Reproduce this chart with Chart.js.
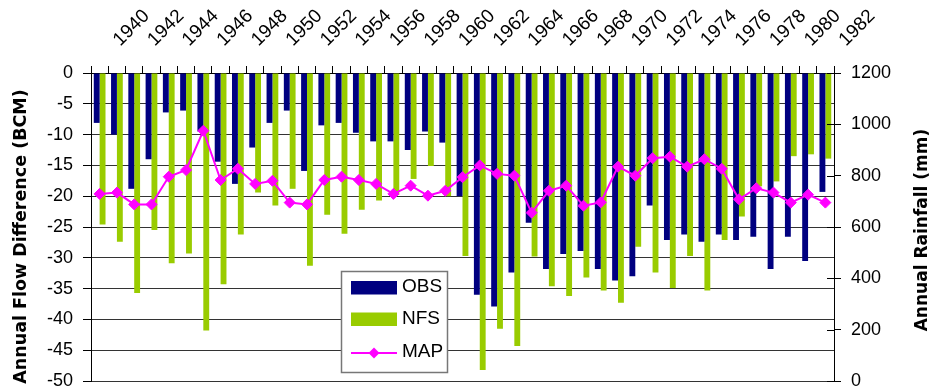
<!DOCTYPE html>
<html>
<head>
<meta charset="utf-8">
<title>Annual Flow Difference and Annual Rainfall</title>
<script src="https://cdn.jsdelivr.net/npm/chart.js@4.4.1/dist/chart.umd.min.js"></script>
<style>
  html, body { margin: 0; padding: 0; background: #fff; }
  #wrap { width: 933px; height: 388px; }
</style>
</head>
<body>
<div id="wrap"><canvas id="chart" width="933" height="388"></canvas></div>
<script>
// Years on the category axis (1940-1982)
const years = [
  1940, 1941, 1942, 1943, 1944, 1945, 1946, 1947, 1948, 1949,
  1950, 1951, 1952, 1953, 1954, 1955, 1956, 1957, 1958, 1959,
  1960, 1961, 1962, 1963, 1964, 1965, 1966, 1967, 1968, 1969,
  1970, 1971, 1972, 1973, 1974, 1975, 1976, 1977, 1978, 1979,
  1980, 1981, 1982
];

// Observed annual flow difference (BCM)
const obs = [
  -8.1, -10.0, -18.8, -14.0, -6.4, -6.1, -9.5, -14.4, -18.0, -12.1,
  -8.1, -6.1, -15.9, -8.5, -8.1, -9.7, -11.1, -11.1, -12.5, -9.5,
  -11.3, -20.0, -36.0, -37.9, -32.4, -24.3, -31.8, -29.4, -28.9, -31.8,
  -33.7, -33.0, -21.5, -27.1, -26.2, -27.4, -26.2, -27.1, -26.6, -31.8,
  -26.6, -30.5, -19.3
];

// Naturalised flow difference (BCM)
const nfs = [
  -24.6, -27.4, -35.7, -25.5, -30.9, -29.3, -41.8, -34.3, -26.2, -19.4,
  -21.5, -18.8, -31.3, -23.0, -26.1, -22.2, -20.7, -19.8, -17.2, -15.1,
  -20.0, -29.7, -48.2, -41.5, -44.3, -29.8, -34.6, -36.2, -33.2, -35.3,
  -37.3, -28.2, -32.4, -34.9, -29.7, -35.3, -27.1, -23.3, -18.4, -17.6,
  -13.5, -13.2, -13.9
];

// Mean annual precipitation (mm)
const map = [
  729, 734, 688, 688, 796, 822, 975, 783, 827, 768,
  780, 695, 688, 783, 796, 783, 768, 729, 761, 722,
  741, 794, 840, 807, 800, 656, 741, 761, 683, 696,
  835, 800, 868, 874, 835, 864, 827, 708, 751, 734,
  695, 726, 695
];

const seriesNames = ['OBS', 'NFS', 'MAP'];
const leftTitle = 'Annual Flow Difference (BCM)';
const rightTitle = 'Annual Rainfall (mm)';

const NAVY = '#000080';
const LIME = '#99CC00';
const MAGENTA = '#FF00FF';
const SANS = '"Liberation Sans", Arial, sans-serif';
const WIDE = '"DejaVu Sans", "Liberation Sans", sans-serif';

// Axis titles, legend box and the inner half of the right-hand ticks
const extras = {
  id: 'extras',
  afterDraw(chart) {
    const ctx = chart.ctx;
    const area = chart.chartArea;

    // inner tick marks on the rainfall axis
    const y1 = chart.scales.y1;
    ctx.save();
    ctx.strokeStyle = '#000';
    ctx.lineWidth = 1;
    y1.ticks.forEach((t, i) => {
      const py = Math.round(y1.getPixelForTick(i)) + 0.5;
      ctx.beginPath();
      ctx.moveTo(area.right - 7, py);
      ctx.lineTo(area.right, py);
      ctx.stroke();
    });
    ctx.restore();

    // rotated axis titles, both reading bottom to top
    const drawTitle = (text, x, y, size) => {
      ctx.save();
      ctx.translate(x, y);
      ctx.rotate(-Math.PI / 2);
      ctx.font = 'bold ' + size + 'px ' + WIDE;
      ctx.fillStyle = '#000';
      ctx.textAlign = 'center';
      ctx.textBaseline = 'alphabetic';
      ctx.fillText(text, 0, 0);
      ctx.restore();
    };
    drawTitle(leftTitle, 26, (area.top + area.bottom) / 2 + 9.5, 17.5);
    drawTitle(rightTitle, chart.width - 6.3, (area.top + area.bottom) / 2 + 3, 17);

    // legend box
    const lx = area.left + 250;
    const ly = area.top + 198;
    const lw = 106;
    const lh = 101;
    ctx.save();
    ctx.fillStyle = '#fff';
    ctx.fillRect(lx, ly, lw, lh);
    ctx.strokeStyle = '#777';
    ctx.lineWidth = 1.5;
    ctx.strokeRect(lx + 0.5, ly + 0.5, lw, lh);

    const sx = lx + 10;
    const sw = 46;
    const rows = [ly + 17, ly + 48.5, ly + 82];
    ctx.fillStyle = NAVY;
    ctx.fillRect(sx, rows[0] - 7, sw, 13.5);
    ctx.fillStyle = LIME;
    ctx.fillRect(sx, rows[1] - 7, sw, 13.5);

    ctx.strokeStyle = MAGENTA;
    ctx.lineWidth = 2;
    ctx.beginPath();
    ctx.moveTo(sx, rows[2]);
    ctx.lineTo(sx + sw, rows[2]);
    ctx.stroke();
    const cx = sx + sw / 2;
    const r = 5.5;
    ctx.fillStyle = MAGENTA;
    ctx.beginPath();
    ctx.moveTo(cx, rows[2] - r);
    ctx.lineTo(cx + r, rows[2]);
    ctx.lineTo(cx, rows[2] + r);
    ctx.lineTo(cx - r, rows[2]);
    ctx.closePath();
    ctx.fill();

    ctx.fillStyle = '#000';
    ctx.font = '19px ' + SANS;
    ctx.textAlign = 'left';
    ctx.textBaseline = 'middle';
    seriesNames.forEach((name, i) => {
      ctx.fillText(name, sx + sw + 5, rows[i] - 1);
    });
    ctx.restore();
  }
};

const tickFont = { family: SANS, size: 18 };

new Chart(document.getElementById('chart'), {
  data: {
    labels: years,
    datasets: [
      {
        type: 'line',
        label: seriesNames[2],
        data: map,
        yAxisID: 'y1',
        borderColor: MAGENTA,
        backgroundColor: MAGENTA,
        borderWidth: 2,
        pointStyle: 'rectRot',
        pointRadius: 5.5,
        pointBackgroundColor: MAGENTA,
        pointBorderColor: MAGENTA,
        pointBorderWidth: 1,
        tension: 0,
        order: 0
      },
      {
        type: 'bar',
        label: seriesNames[0],
        data: obs,
        yAxisID: 'y',
        backgroundColor: NAVY,
        borderWidth: 0,
        categoryPercentage: 0.68,
        barPercentage: 1.0,
        order: 1
      },
      {
        type: 'bar',
        label: seriesNames[1],
        data: nfs,
        yAxisID: 'y',
        backgroundColor: LIME,
        borderWidth: 0,
        categoryPercentage: 0.68,
        barPercentage: 1.0,
        order: 1
      }
    ]
  },
  options: {
    responsive: false,
    animation: false,
    devicePixelRatio: 1,
    layout: { padding: { top: 0, left: 0, right: 0, bottom: 7 } },
    plugins: {
      legend: { display: false },
      tooltip: { enabled: false }
    },
    scales: {
      x: {
        type: 'category',
        position: 'top',
        offset: true,
        grid: {
          offset: true,
          drawOnChartArea: false,
          tickLength: 7,
          color: '#000',
          lineWidth: 1
        },
        border: { display: true, color: '#000', width: 1 },
        ticks: {
          autoSkip: false,
          minRotation: 45,
          maxRotation: 45,
          labelOffset: 33,
          padding: 15,
          color: '#000',
          font: { family: SANS, size: 19 },
          callback: (value, index) => (index % 2 === 0 ? String(years[index]) : '')
        },
        afterFit(scale) {
          scale.height = 73;
          scale.paddingLeft = 0;
          scale.paddingRight = 0;
        }
      },
      y: {
        position: 'left',
        min: -50,
        max: 0,
        ticks: {
          stepSize: 5,
          padding: 10,
          color: '#000',
          font: tickFont,
          callback: (value) => String(value)
        },
        grid: {
          color: '#333',
          tickColor: '#000',
          tickLength: 8,
          lineWidth: 1
        },
        border: { display: true, color: '#000', width: 1 },
        afterFit(scale) {
          scale.width = 91;
          scale.paddingTop = 0;
          scale.paddingBottom = 0;
        }
      },
      y1: {
        position: 'right',
        min: 0,
        max: 1200,
        ticks: {
          stepSize: 200,
          padding: 10,
          color: '#000',
          font: tickFont,
          callback: (value) => String(value)
        },
        grid: {
          drawOnChartArea: false,
          tickLength: 7,
          color: '#000',
          lineWidth: 1
        },
        border: { display: true, color: '#000', width: 1 },
        afterFit(scale) {
          scale.width = 99;
          scale.paddingTop = 0;
          scale.paddingBottom = 0;
        }
      }
    }
  },
  plugins: [extras]
});
</script>
</body>
</html>
